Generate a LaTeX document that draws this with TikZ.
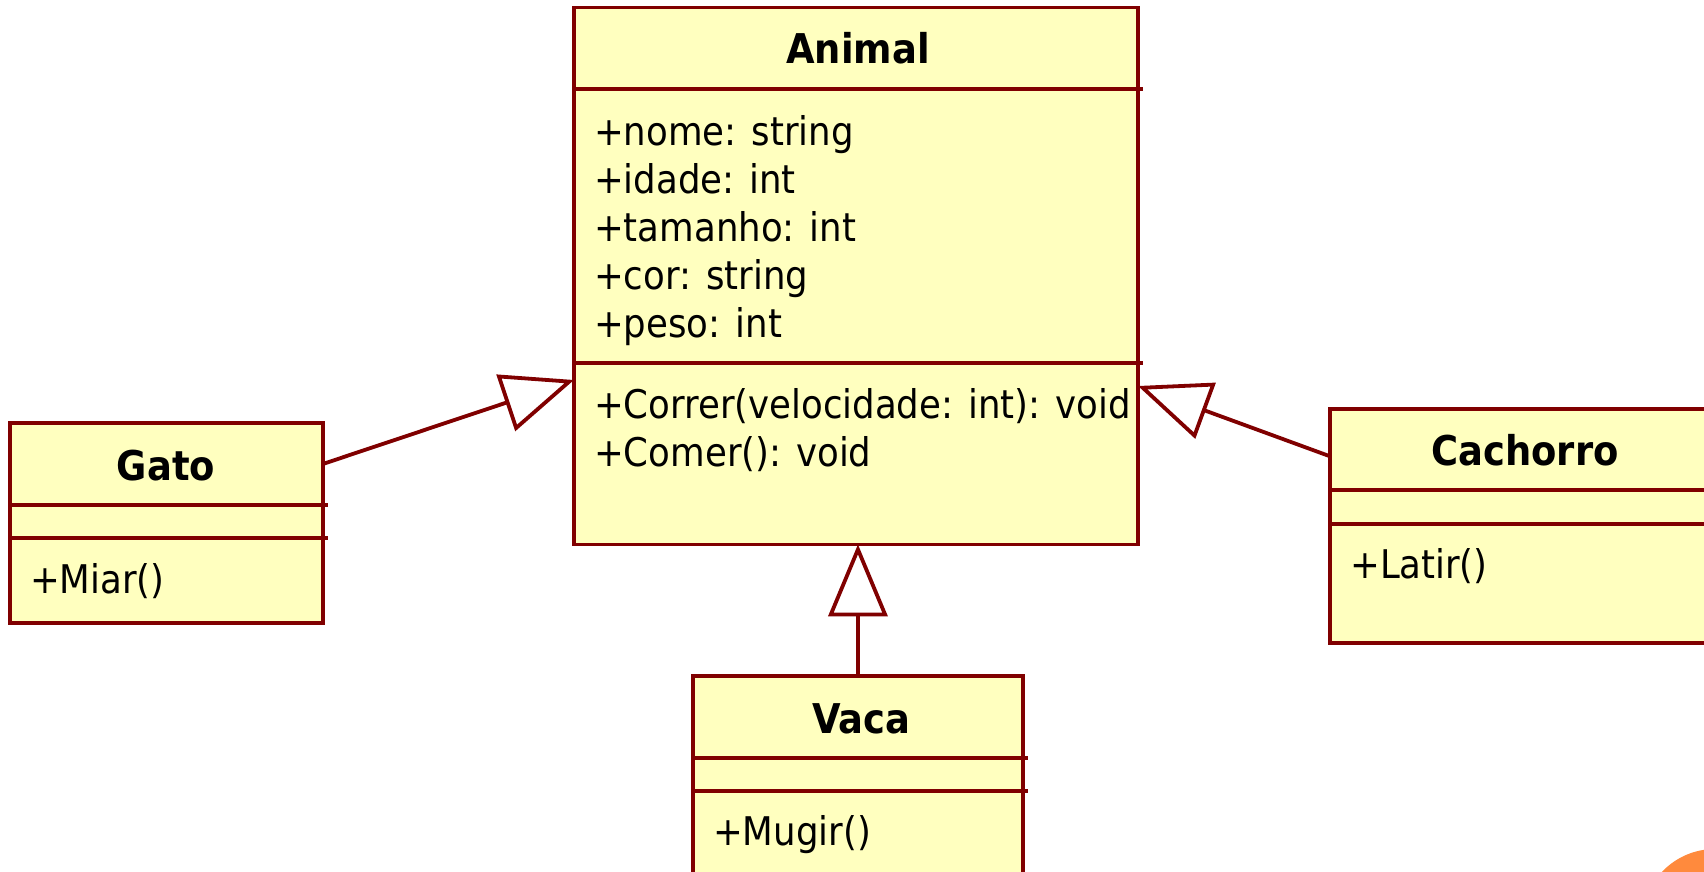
\documentclass[tikz,border=0pt]{standalone}
\usepackage{fontspec}
\setmainfont{DejaVu Sans Condensed}
\usetikzlibrary{arrows.meta}
\definecolor{umlred}{HTML}{800000}
\definecolor{umlfill}{HTML}{FFFFBF}
\definecolor{slideorange}{HTML}{FF8A3D}
\begin{document}
\begin{tikzpicture}[x=1pt,y=-1pt,
  comp/.style 2 args={draw=umlred, fill=umlfill, line width=3.8pt, anchor=north west,
    inner sep=0pt, outer sep=0pt, minimum width=#1, minimum height=#2},
  txt/.style={anchor=base west, inner sep=0pt, font=\fontsize{39.5}{48}\selectfont},
  ttl/.style={anchor=base, inner sep=0pt, font=\bfseries\fontsize{41}{48}\selectfont},
  ext/.style={draw=umlred, line width=3.8pt},
  inh/.style={draw=umlred, line width=3.8pt,
    -{Triangle[open, length=72pt, width=59pt]}}]
\path[use as bounding box] (0,0) rectangle (1704,872);
\clip (0,0) rectangle (1704,872);
\fill[white] (0,0) rectangle (1704,872);

% Animal
\node[comp={564pt}{81.4pt}] (animalH) at (574,7.6) {};
\node[comp={564pt}{274pt}] (animalA) at (574,89) {};
\node[comp={564pt}{181.4pt}] (animalM) at (574,363) {};
\draw[ext] (animalH.south east) -- ++(5,0);
\draw[ext] (animalA.south east) -- ++(5,0);
\node[ttl] (animalT) at (858,64) {Animal};
\node[txt] (a1) at (594,145) {+nome: string};
\node[txt] (a2) at (594,193) {+idade: int};
\node[txt] (a3) at (594,241) {+tamanho: int};
\node[txt] (a4) at (594,289) {+cor: string};
\node[txt] (a5) at (594,337) {+peso: int};
\node[txt] (m1) at (594,418.5) {+Correr(velocidade: int): void};
\node[txt] (m2) at (594,466) {+Comer(): void};

% Gato
\node[comp={313pt}{82.6pt}] (gatoH) at (9.8,422.7) {};
\node[comp={313pt}{32.7pt}] (gatoA) at (9.8,505.3) {};
\node[comp={313pt}{84.7pt}] (gatoM) at (9.8,538) {};
\draw[ext] (gatoH.south east) -- ++(5,0);
\draw[ext] (gatoA.south east) -- ++(5,0);
\node[ttl] (gatoT) at (166,480) {Gato};
\node[txt] (g1) at (30,593) {+Miar()};

% Vaca
\node[comp={330.5pt}{81.7pt}] (vacaH) at (692.7,676) {};
\node[comp={330.5pt}{33pt}] (vacaA) at (692.7,757.7) {};
\node[comp={330.5pt}{160pt}] (vacaM) at (692.7,790.7) {};
\draw[ext] (vacaH.south east) -- ++(5,0);
\draw[ext] (vacaA.south east) -- ++(5,0);
\node[ttl] (vacaT) at (861,733) {Vaca};
\node[txt] (v1) at (713,845) {+Mugir()};

% Cachorro
\node[comp={390pt}{81.4pt}] (cachH) at (1330,408.6) {};
\node[comp={390pt}{34pt}] (cachA) at (1330,490) {};
\node[comp={390pt}{118.7pt}] (cachM) at (1330,524) {};
\node[ttl] (cachT) at (1525,465) {Cachorro};
\node[txt] (c1) at (1350,578) {+Latir()};

% connectors
\coordinate (animalL) at ([yshift=-17pt]animalM.north west);
\coordinate (animalR) at ([yshift=-23pt]animalM.north east);
\coordinate (cachL) at ([yshift=-7pt]cachH.west);
\draw[inh] (gatoH.east) -- (animalL);
\draw[inh] (cachL) -- (animalR);
\draw[inh] (vacaH.north) -- (vacaH.north |- animalM.south);

% slide decoration
\fill[slideorange] (1715,922) circle (73);
\end{tikzpicture}
\end{document}
